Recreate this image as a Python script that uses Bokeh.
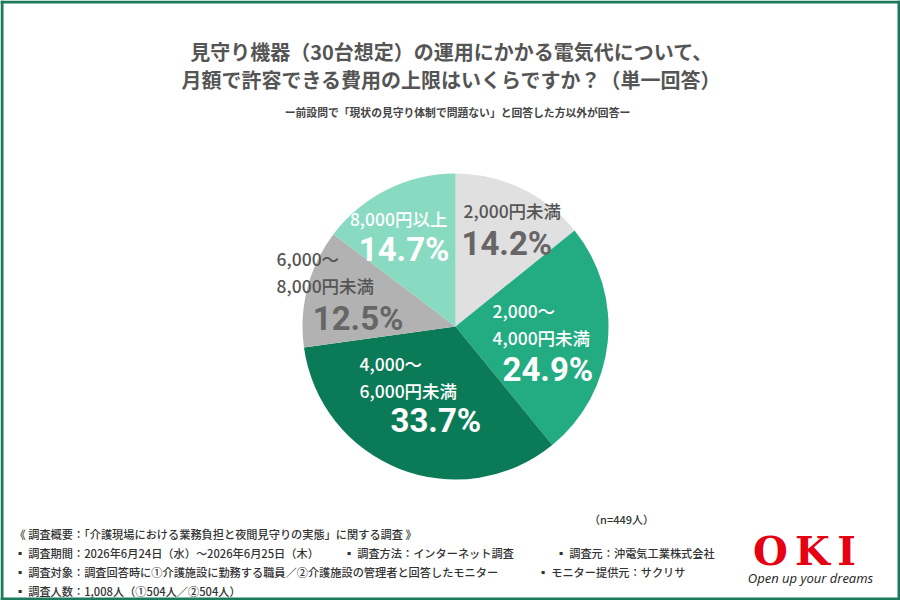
import math

from bokeh.plotting import figure
from bokeh.models import ColumnDataSource, Range1d
from bokeh.core.properties import value
from bokeh.embed import file_html
from bokeh.resources import INLINE

# ---- data -------------------------------------------------------------
categories = ["2,000円未満", "2,000～4,000円未満", "4,000～6,000円未満",
              "6,000～8,000円未満", "8,000円以上"]
label_lines = [["2,000円未満"], ["2,000～", "4,000円未満"], ["4,000～", "6,000円未満"],
               ["6,000～", "8,000円未満"], ["8,000円以上"]]
shares = [14.2, 24.9, 33.7, 12.5, 14.7]
slice_colors = ["#e0e0e0", "#23ab81", "#0b7a57", "#b2b2b2", "#88dbc1"]
label_colors = ["#555555", "#ffffff", "#ffffff", "#555555", "#ffffff"]
pct_colors = ["#666666", "#ffffff", "#ffffff", "#666666", "#ffffff"]

title_lines = ["見守り機器（30台想定）の運用にかかる電気代について、",
               "月額で許容できる費用の上限はいくらですか？（単一回答）"]
subtitle = "ー前設問で「現状の見守り体制で問題ない」と回答した方以外が回答ー"
sample_note = "（n=449人）"

W, H = 900, 600
JP = value("Noto Sans CJK JP")
JP_MED = value("Noto Sans CJK JP Medium")
NUM = value("Roboto")


def Y(py):
    """Convert a top-down pixel row into the figure's upward y coordinate."""
    return H - py


p = figure(width=W, height=H, x_range=Range1d(0, W), y_range=Range1d(0, H),
           output_backend="svg", toolbar_location=None, min_border=0,
           background_fill_color="white", border_fill_color="white")
p.axis.visible = False
p.grid.visible = False
p.outline_line_color = None

# ---- frame -----------------------------------------------------------
frame_color = "#1b7a5b"
p.quad(left=[0, 0, 0, W - 3], right=[W, W, 3, W], bottom=[0, H - 3, 0, 0],
       top=[3, H, H, H], fill_color=frame_color, line_color=None)

# ---- pie -------------------------------------------------------------
cx, cy, r = 455, Y(326), 153
cum = [0.0]
for s in shares:
    cum.append(cum[-1] + s)
total = cum[-1]
starts = [math.pi / 2 - 2 * math.pi * c / total for c in cum[:-1]]
ends = [math.pi / 2 - 2 * math.pi * c / total for c in cum[1:]]
src = ColumnDataSource(dict(start=starts, end=ends, color=slice_colors, cat=categories))
p.wedge(x=cx, y=cy, radius=r, start_angle="start", end_angle="end",
        direction="clock", fill_color="color", line_color=None, source=src)

# label anchors: (x, row of first line, align) and percent (x, row, align)
label_pos = [(463, 210, "left"), (492, 310, "left"), (359, 363, "left"),
             (276, 258, "left"), (447, 218, "right")]
pct_pos = [(461, 243, "left"), (502, 369, "left"), (390, 420, "left"),
           (403, 318, "right"), (449, 249, "right")]
line_gap = 27

for i, lines in enumerate(label_lines):
    lx, ly, la = label_pos[i]
    for k, txt in enumerate(lines):
        p.text(x=[lx], y=[Y(ly + k * line_gap)], text=[txt], text_font=JP_MED,
               text_font_size="17.5px", text_font_style="normal",
               text_color=label_colors[i], text_align=la, text_baseline="middle")
    px, py, pa = pct_pos[i]
    p.text(x=[px], y=[Y(py)], text=[f"{shares[i]}%"], text_font=NUM,
           text_font_size="33px", text_font_style="bold",
           text_color=pct_colors[i], text_align=pa, text_baseline="middle")

# ---- titles ----------------------------------------------------------
for k, t in enumerate(title_lines):
    p.text(x=[451], y=[Y(51 + k * 28)], text=[t], text_font=JP,
           text_font_size="20px", text_font_style="bold", text_color="#555555",
           text_align="center", text_baseline="middle")
p.text(x=[457], y=[Y(111)], text=[subtitle], text_font=JP, text_font_size="10.8px",
       text_font_style="bold", text_color="#444444", text_align="center",
       text_baseline="middle")
p.text(x=[621], y=[Y(518)], text=[sample_note], text_font=JP_MED, text_font_size="11px",
       text_color="#333333", text_align="center", text_baseline="middle")

# ---- survey notes ----------------------------------------------------
notes = [
    (14, 533, "《 調査概要：「介護現場における業務負担と夜間見守りの実態」に関する調査 》"),
    (14, 552, "▪ 調査期間：2026年6月24日（水）～2026年6月25日（木）"),
    (343, 552, "▪ 調査方法：インターネット調査"),
    (555, 552, "▪ 調査元：沖電気工業株式会社"),
    (14, 571, "▪ 調査対象：調査回答時に①介護施設に勤務する職員／②介護施設の管理者と回答したモニター"),
    (537, 571, "▪ モニター提供元：サクリサ"),
    (14, 590, "▪ 調査人数：1,008人（①504人／②504人）"),
]
for nx, ny, nt in notes:
    p.text(x=[nx], y=[Y(ny)], text=[nt], text_font=JP_MED, text_font_size="11.2px",
           text_color="#333333", text_align="left", text_baseline="middle")

# ---- logo ------------------------------------------------------------
for ch, lx in zip(["O", "K", "I"], [770, 812, 846]):
    p.text(x=[lx], y=[Y(550)], text=[ch], text_font=value("DejaVu Serif"),
           text_font_size="40px", text_font_style="bold", text_color="#e60012",
           text_align="center", text_baseline="middle")
p.text(x=[810], y=[Y(577)], text=["Open up your dreams"], text_font=value("Open Sans"),
       text_font_size="13px", text_font_style="italic", text_color="#222222",
       text_align="center", text_baseline="middle")

open("out.html", "w").write(file_html(p, INLINE))
